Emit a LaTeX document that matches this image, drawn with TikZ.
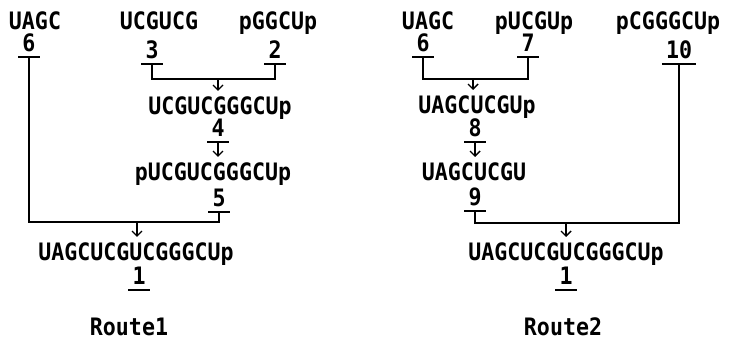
\documentclass[tikz,border=0pt]{standalone}
\usepackage{fontspec}
\usepackage{tikz}
\usetikzlibrary{arrows.meta}
\newfontfamily\dnafont{DejaVu Sans Mono}[FakeStretch=0.9]

\begin{document}
\begin{tikzpicture}[x=1pt,y=-1pt]
    \tikzset{seq/.style={font=\dnafont\bfseries\fontsize{24}{28}\selectfont,anchor=base,inner xsep=0pt,inner ysep=2pt}, num/.style={font=\dnafont\bfseries\fontsize{24}{28}\selectfont,anchor=base,inner xsep=4pt,inner ysep=1pt,text depth=5pt}, bar/.style={line width=1.6pt}, link/.style={line width=2pt}, arr/.style={-{Straight Barb[length=5pt,width=10pt]},line width=1.4pt,shorten >=3pt}}
    \useasboundingbox (0,0) rectangle (746,341);
    % Route 1
    \node[seq] (la) at (35,29) {UAGC};
    \node[seq] (lb) at (159,29) {UCGUCG};
    \node[seq] (lc) at (278,29) {pGGCUp};
    \node[num] (a6) at (29,51) {6};
    \node[num] (a3) at (152,58) {3};
    \node[num] (a2) at (275,58) {2};
    \node[seq] (ld) at (220,114) {UCGUCGGGCUp};
    \node[num] (a4) at (218,136) {4};
    \node[seq] (le) at (213,180) {pUCGUCGGGCUp};
    \node[num] (a5) at (219,206) {5};
    \node[seq] (lf) at (136,260) {UAGCUCGUCGGGCUp};
    \node[num] (a1) at (139,284) {1};
    \node[seq] (r1) at (129,335) {Route1};
    \coordinate (j1) at (218,79);
    \coordinate (j2) at (137,222);
    % Route 2
    \node[seq] (ra) at (428,29) {UAGC};
    \node[seq] (rb) at (534,29) {pUCGUp};
    \node[seq] (rc) at (668,29) {pCGGGCUp};
    \node[num] (b6) at (423,51) {6};
    \node[num] (b7) at (528,51) {7};
    \node[num] (b10) at (679,58) {10};
    \node[seq] (rd) at (477,113) {UAGCUCGUp};
    \node[num] (b8) at (475,136) {8};
    \node[seq] (re) at (474,180) {UAGCUCGU};
    \node[num] (b9) at (475,205) {9};
    \node[seq] (rf) at (566,260) {UAGCUCGUCGGGCUp};
    \node[num] (b1) at (566,284) {1};
    \node[seq] (r2) at (563,335) {Route2};
    \coordinate (j3) at (473,79);
    \coordinate (j4) at (566,223);
    \foreach \n in {a6,a3,a2,a4,a5,a1,b6,b7,b10,b8,b9,b1} \draw[bar] (\n.south west) -- (\n.south east);
    \draw[link] (a3.south) |- (j1) -| (a2.south); \draw[arr] (j1) -- (ld.north -| j1); \draw[arr] (a4.south) -- (le.north -| a4.south);
    \draw[link] (a6.south) |- (j2) -| (a5.south); \draw[arr] (j2) -- (lf.north -| j2);
    \draw[link] (b6.south) |- (j3) -| (b7.south); \draw[arr] (j3) -- (rd.north -| j3); \draw[arr] (b8.south) -- (re.north -| b8.south);
    \draw[link] (b9.south) |- (j4) -| (b10.south); \draw[arr] (j4) -- (rf.north -| j4);
  \end{tikzpicture}
\end{document}
